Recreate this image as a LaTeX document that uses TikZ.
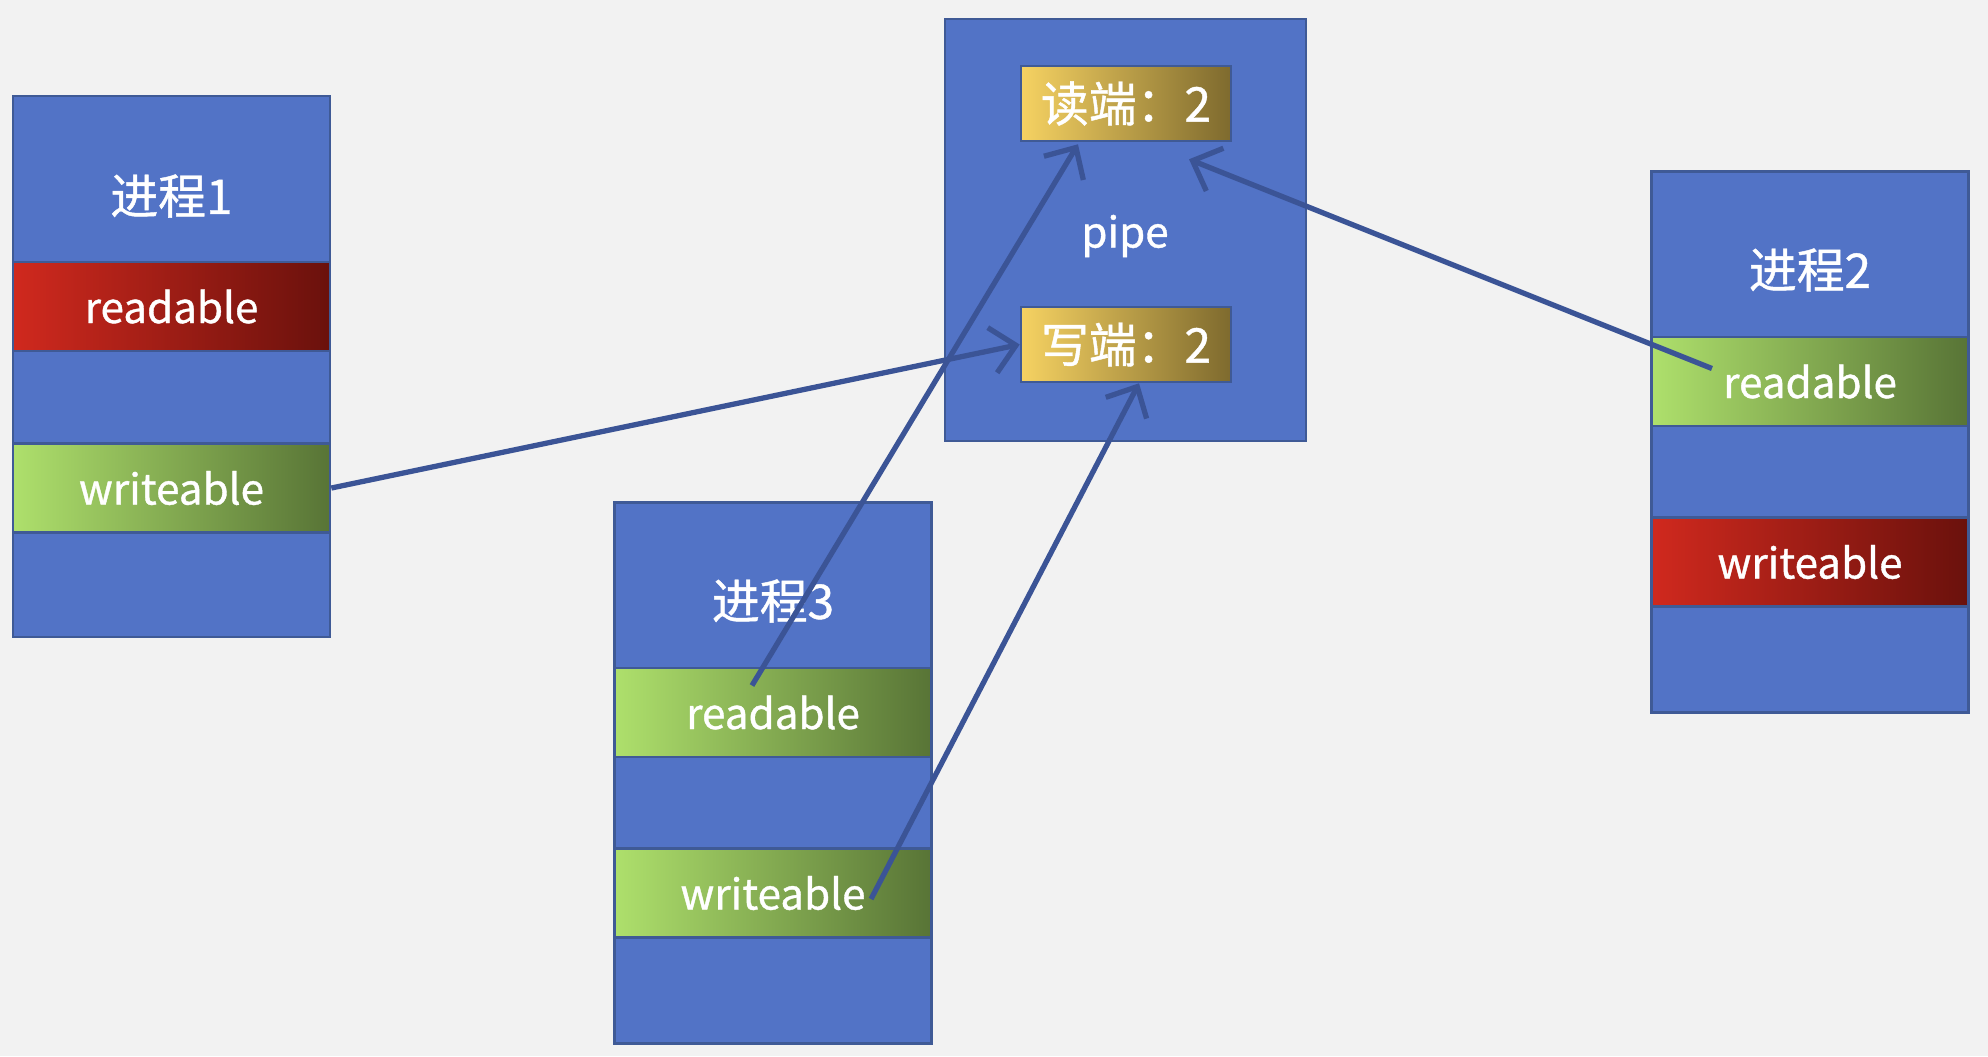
\documentclass[tikz,border=0pt]{standalone}
\usepackage{fontspec}
\setmainfont{Noto Sans CJK SC}[FakeBold=0.9]
\usetikzlibrary{arrows.meta}
\definecolor{bg}{HTML}{F2F2F2}
\definecolor{box}{HTML}{5273C6}
\definecolor{edge}{HTML}{3F5A96}
\definecolor{arrow}{HTML}{3B5496}
\definecolor{redL}{HTML}{D0291E}
\definecolor{redR}{HTML}{6A110C}
\definecolor{grnL}{HTML}{AEE06C}
\definecolor{grnR}{HTML}{587436}
\definecolor{goldL}{HTML}{F6D262}
\definecolor{goldR}{HTML}{7E6A2E}
\begin{document}
\begin{tikzpicture}[x=0.01cm,y=-0.01cm]
      \tikzstyle{txt}=[text=white, font=\fontsize{12}{14}\selectfont, inner sep=0pt]
      \tikzstyle{zh}=[txt, font=\fontsize{13.6}{15}\selectfont]
      \tikzstyle{proc}=[draw=edge, fill=box, line width=0.7pt, minimum width=3.17cm, minimum height=5.41cm, inner sep=0pt]
      \tikzstyle{band}=[txt, draw=edge, line width=0.7pt, minimum width=3.17cm, minimum height=0.89cm]
      \tikzstyle{rd}=[band, left color=redL, right color=redR]
      \tikzstyle{gr}=[band, left color=grnL, right color=grnR]
      \tikzstyle{fd}=[band, zh, left color=goldL, right color=goldR, minimum width=2.1cm, minimum height=0.75cm]
      \tikzstyle{link}=[draw=arrow, line width=1.5pt, -{Straight Barb[length=2.4mm,width=4.6mm]}]
        \fill[bg] (0,0) rectangle (1988,1056);
        % pipe
        \node[proc, minimum width=3.61cm, minimum height=4.22cm] (pipe) at (1125.5,230) {};
        \node[txt] (pl) at (1125,236) {pipe};
        \node[fd] (pr) at (1126,103.5) {读端：2};
        \node[fd] (pw) at (1126,344.5) {写端：2};
        % processes
        \node[proc] (p1) at (171.5,366.5) {};
        \node[zh] (p1t) at (171.5,196) {进程1};
        \node[rd] (p1r) at (171.5,306.5) {readable};
        \node[gr] (p1w) at (171.5,488) {writeable};
        \node[proc] (p2) at (1810,442) {};
        \node[zh] (p2t) at (1810,270) {进程2};
        \node[gr] (p2r) at (1810,381.5) {readable};
        \node[rd] (p2w) at (1810,562) {writeable};
        \node[proc] (p3) at (773,773) {};
        \node[zh] (p3t) at (773,601) {进程3};
        \node[gr] (p3r) at (773,712.5) {readable};
        \node[gr] (p3w) at (773,893) {writeable};
        % fds
        \coordinate (a2s) at ([xshift=-0.21cm,yshift=0.27cm]p3r.center);
        \coordinate (a2e) at ([xshift=-0.48cm,yshift=-0.02cm]pr.south);
        \coordinate (a3s) at ([xshift=0.98cm,yshift=-0.06cm]p3w.center);
        \coordinate (a3e) at ([xshift=0.13cm]pw.south);
        \coordinate (a4s) at ([xshift=-0.98cm,yshift=0.13cm]p2r.center);
        \coordinate (a4e) at ([xshift=0.63cm,yshift=-0.17cm]pr.south);
        \draw[link] (p1w.east) -- (pw.west);
        \draw[link] (a2s) -- (a2e);
        \draw[link] (a3s) -- (a3e);
        \draw[link] (a4s) -- (a4e);
\end{tikzpicture}
\end{document}
